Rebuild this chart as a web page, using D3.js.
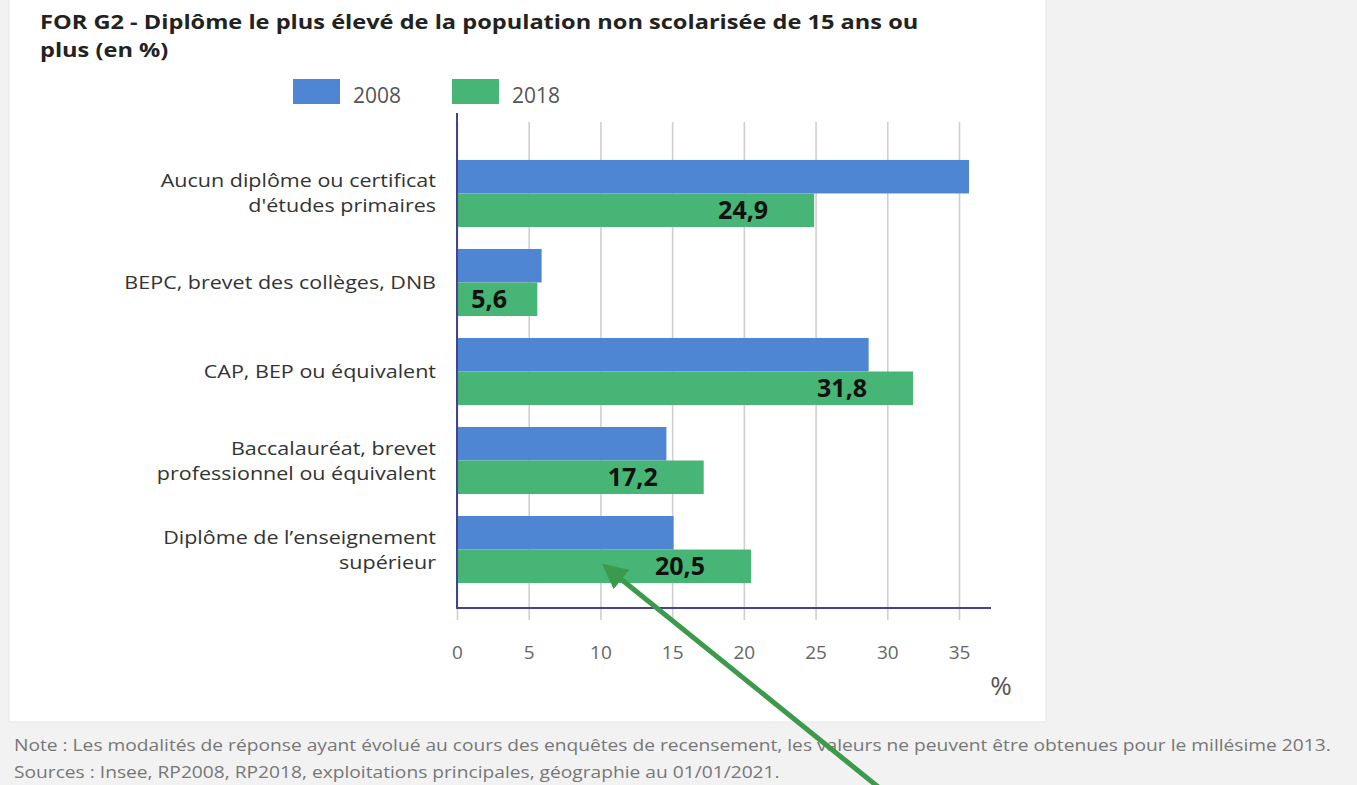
<!DOCTYPE html>
<html><head><meta charset="utf-8">
<script src="https://cdn.jsdelivr.net/npm/d3@7"></script>
<style>
html,body{margin:0;padding:0;background:#f2f2f2;}
svg{display:block;font-family:"Open Sans",sans-serif;}
</style></head>
<body>
<svg id="c" width="1357" height="785"></svg>
<script>
const categories = [
  ["Aucun diplôme ou certificat", "d'études primaires"],
  ["BEPC, brevet des collèges, DNB"],
  ["CAP, BEP ou équivalent"],
  ["Baccalauréat, brevet", "professionnel ou équivalent"],
  ["Diplôme de l’enseignement", "supérieur"]
];
const seriesNames = ["2008", "2018"];
const values2008 = [35.7, 5.9, 28.7, 14.6, 15.1];
const values2018 = [24.9, 5.6, 31.8, 17.2, 20.5];
const labels2018 = ["24,9", "5,6", "31,8", "17,2", "20,5"];
const xTicks = [0, 5, 10, 15, 20, 25, 30, 35];
const titleLines = ["FOR G2 - Diplôme le plus élevé de la population non scolarisée de 15 ans ou", "plus (en %)"];
const notes = ["Note : Les modalités de réponse ayant évolué au cours des enquêtes de recensement, les valeurs ne peuvent être obtenues pour le millésime 2013.",
  "Sources : Insee, RP2008, RP2018, exploitations principales, géographie au 01/01/2021."];

const colors = ["#4f86d4", "#46b575"];
const svg = d3.select("#c");

// place text with horizontal stretch
function placeText(sel, fx, fy, sx) {
  return sel.attr("x", 0).attr("y", 0)
    .attr("transform", (d, i) => `translate(${fx(d, i)},${fy(d, i)}) scale(${sx},1)`);
}

// card
svg.append("rect").attr("x", 9).attr("y", -2).attr("width", 1037).attr("height", 724)
  .attr("fill", "#fff").attr("stroke", "#e6e6e6").attr("stroke-width", 1);

// title
placeText(svg.append("g").selectAll("text").data(titleLines).join("text"),
  () => 40, (d, i) => 29 + i * 27.5, 1.18)
  .attr("font-size", 20).attr("font-weight", 700).attr("fill", "#222")
  .text(d => d);

const x = d3.scaleLinear().domain([0, 35]).range([457, 959]);
const idx = categories.map((d, i) => i);
const y = d3.scaleBand().domain(idx).range([149, 594]).paddingInner(0.247).paddingOuter(0.123);
const ySub = d3.scaleBand().domain([0, 1]).range([0, y.bandwidth()]);

// gridlines via axis
const xAxis = d3.axisBottom(x).tickValues(xTicks).tickSize(-(608 - 122) - 12).tickPadding(26).tickFormat(d3.format("d"));
const gx = svg.append("g").attr("transform", "translate(0,620)").call(xAxis);
gx.select(".domain").remove();
gx.selectAll(".tick line").attr("stroke", "#cfcfcf").attr("stroke-width", 1.6);
gx.selectAll(".tick text").attr("fill", "#666").attr("font-size", 19).attr("font-family", "Open Sans");

// bars
const series = [values2008, values2018];
series.forEach((vals, s) => {
  svg.append("g").selectAll("rect").data(vals).join("rect")
    .attr("x", x(0))
    .attr("y", (d, i) => y(i) + ySub(s))
    .attr("width", d => x(d) - x(0))
    .attr("height", ySub.bandwidth())
    .attr("fill", colors[s]);
});

// value labels (2018)
svg.append("g").selectAll("text").data(values2018).join("text")
  .attr("x", d => Math.max(x(d) - 46, x(0) + 50))
  .attr("y", (d, i) => y(i) + ySub(1) + ySub.bandwidth() / 2 + 9)
  .attr("text-anchor", "end")
  .attr("font-size", 25).attr("font-weight", 700).attr("fill", "#111")
  .text((d, i) => labels2018[i]);

// axes lines
svg.append("line").attr("x1", x(0)).attr("x2", x(0)).attr("y1", 113).attr("y2", 609)
  .attr("stroke", "#43438f").attr("stroke-width", 2);
svg.append("line").attr("x1", x(0) - 1).attr("x2", 991).attr("y1", 608).attr("y2", 608)
  .attr("stroke", "#43438f").attr("stroke-width", 2);

// category labels
const cl = svg.append("g");
categories.forEach((lines, i) => {
  const cy = y(i) + y.bandwidth() / 2;
  const lh = 25;
  placeText(cl.append("g").selectAll("text").data(lines).join("text"),
    () => 436, (t, j) => cy + (j - (lines.length - 1) / 2) * lh + 6.5, 1.195)
    .attr("text-anchor", "end").attr("font-size", 18).attr("fill", "#333")
    .text(t => t);
});

// % unit
svg.append("text").attr("x", 1001).attr("y", 695).attr("text-anchor", "middle")
  .attr("font-size", 26).attr("fill", "#555").text("%");

// legend
const lg = svg.append("g");
seriesNames.forEach((n, i) => {
  const lx = 293 + i * 159;
  lg.append("rect").attr("x", lx).attr("y", 79).attr("width", 47).attr("height", 25).attr("fill", colors[i]);
  lg.append("text").attr("x", lx + 60).attr("y", 103).attr("font-size", 21).attr("fill", "#555").text(n);
});

// notes
placeText(svg.append("g").selectAll("text").data(notes).join("text"),
  () => 14, (d, i) => 751 + i * 27, 1.2)
  .attr("font-size", 16).attr("fill", "#777")
  .text(d => d);

// annotation arrow
const defs = svg.append("defs");
defs.append("marker").attr("id", "ah").attr("viewBox", "0 0 10 10").attr("refX", 8).attr("refY", 5)
  .attr("markerWidth", 5).attr("markerHeight", 5).attr("orient", "auto")
  .append("path").attr("d", "M0,0 L10,5 L0,10 Z").attr("fill", "#3c9a4c");
svg.append("line").attr("x1", 882).attr("y1", 790).attr("x2", 606).attr("y2", 567)
  .attr("stroke", "#3c9a4c").attr("stroke-width", 5).attr("marker-end", "url(#ah)");
</script>
</body></html>
